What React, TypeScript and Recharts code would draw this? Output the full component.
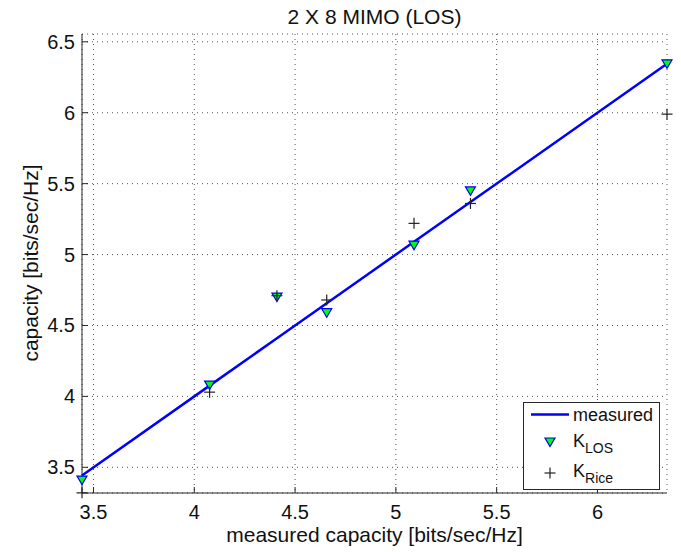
import React from "react";
import {
  ScatterChart,
  Scatter,
  XAxis,
  YAxis,
  CartesianGrid,
  Legend,
} from "recharts";

// measured capacity (x) and the three curves
const measuredCap = [3.443, 4.076, 4.41, 4.657, 5.09, 5.37, 6.345];
const measuredLine = [3.443, 4.076, 4.41, 4.657, 5.09, 5.37, 6.345];
const kLos = [3.41, 4.08, 4.7, 4.59, 5.066, 5.449, 6.345];
const kRice = [3.32, 4.03, 4.71, 4.68, 5.22, 5.36, 5.99];

const xTicks = [3.5, 4, 4.5, 5, 5.5, 6];
const yTicks = [3.5, 4, 4.5, 5, 5.5, 6, 6.5];
const xDomain = [3.443, 6.345];
const yDomain = [3.319, 6.555];

const FONT = '"Liberation Sans", Arial, Helvetica, sans-serif';
const INK = "#262626";
const TICK_LEN = 6;

const toPoints = (ys: number[]) => measuredCap.map((x, i) => ({ x, y: ys[i] }));

function BottomTick({ x, y, payload }: any) {
  return (
    <g>
      <line x1={x} x2={x} y1={y} y2={y - TICK_LEN} stroke={INK} />
      <text
        x={x}
        y={y + 19}
        textAnchor="middle"
        dominantBaseline="central"
        fontSize={20}
        fontFamily={FONT}
        fill="#111"
      >
        {payload.value}
      </text>
    </g>
  );
}

function LeftTick({ x, y, payload }: any) {
  return (
    <g>
      <line x1={x} x2={x + TICK_LEN} y1={y} y2={y} stroke={INK} />
      <text
        x={x - 7}
        y={y}
        textAnchor="end"
        dominantBaseline="central"
        fontSize={20}
        fontFamily={FONT}
        fill="#111"
      >
        {payload.value}
      </text>
    </g>
  );
}

function TopTick({ x, y }: any) {
  return <line x1={x} x2={x} y1={y} y2={y + TICK_LEN} stroke={INK} />;
}

function RightTick({ x, y }: any) {
  return <line x1={x} x2={x - TICK_LEN} y1={y} y2={y} stroke={INK} />;
}

function Triangle({ cx, cy }: any) {
  return (
    <polygon
      points={`${cx - 5},${cy - 4} ${cx + 5},${cy - 4} ${cx},${cy + 4.5}`}
      fill="#00ff00"
      stroke="#0000ff"
      strokeWidth={1.2}
    />
  );
}

function Plus({ cx, cy }: any) {
  return (
    <g stroke="#222" strokeWidth={1.2}>
      <line x1={cx - 5.5} x2={cx + 5.5} y1={cy} y2={cy} />
      <line x1={cx} x2={cx} y1={cy - 5.5} y2={cy + 5.5} />
    </g>
  );
}

function NoDot() {
  return <g />;
}

function LegendBox() {
  const txt = { fontFamily: FONT, fill: "#111" };
  return (
    <svg width={137} height={88} style={{ display: "block" }}>
      <rect x={0.5} y={0.5} width={136} height={87} fill="#fff" stroke={INK} />
      <line x1={8} x2={46} y1={12.5} y2={12.5} stroke="#0000ff" strokeWidth={2.5} />
      <text x={50} y={19} fontSize={18} {...txt}>
        measured
      </text>
      <Triangle cx={27} cy={40} />
      <text x={50} y={45} fontSize={18} {...txt}>
        K
        <tspan fontSize={14} dy={6}>
          LOS
        </tspan>
      </text>
      <Plus cx={27} cy={71} />
      <text x={50} y={75} fontSize={18} {...txt}>
        K
        <tspan fontSize={14} dy={6}>
          Rice
        </tspan>
      </text>
    </svg>
  );
}

export default function App() {
  return (
    <div
      style={{
        position: "absolute",
        left: 0,
        top: 0,
        width: 681,
        height: 552,
        background: "#fff",
        fontFamily: FONT,
        color: "#111",
      }}
    >
      <div
        style={{
          position: "absolute",
          left: 82,
          width: 585,
          top: 5,
          textAlign: "center",
          fontSize: 21,
        }}
      >
        2 X 8 MIMO (LOS)
      </div>

      <ScatterChart
        width={681}
        height={552}
        margin={{ top: 34, right: 14, bottom: 0, left: 0 }}
      >
        <CartesianGrid
          xAxisId="bottom"
          yAxisId="left"
          stroke="#555"
          strokeDasharray="1 4"
        />
        <XAxis
          xAxisId="bottom"
          type="number"
          dataKey="x"
          domain={xDomain}
          ticks={xTicks}
          interval={0}
          height={59}
          tickSize={0}
          tickMargin={0}
          axisLine={{ stroke: INK }}
          tickLine={false}
          tick={<BottomTick />}
        />
        <XAxis
          xAxisId="top"
          orientation="top"
          type="number"
          dataKey="x"
          domain={xDomain}
          ticks={xTicks}
          interval={0}
          height={0}
          tickSize={0}
          tickMargin={0}
          axisLine={{ stroke: INK }}
          tickLine={false}
          tick={<TopTick />}
        />
        <YAxis
          yAxisId="left"
          type="number"
          dataKey="y"
          domain={yDomain}
          ticks={yTicks}
          interval={0}
          width={82}
          tickSize={0}
          tickMargin={0}
          axisLine={{ stroke: INK }}
          tickLine={false}
          tick={<LeftTick />}
        />
        <YAxis
          yAxisId="right"
          orientation="right"
          type="number"
          dataKey="y"
          domain={yDomain}
          ticks={yTicks}
          interval={0}
          width={0}
          tickSize={0}
          tickMargin={0}
          axisLine={{ stroke: INK }}
          tickLine={false}
          tick={<RightTick />}
        />
        <Scatter
          name="measured"
          xAxisId="bottom"
          yAxisId="left"
          data={toPoints(measuredLine)}
          line={{ stroke: "#0000ff", strokeWidth: 2.5 }}
          shape={<NoDot />}
          isAnimationActive={false}
        />
        <Scatter
          name="K_LOS"
          xAxisId="bottom"
          yAxisId="left"
          data={toPoints(kLos)}
          shape={<Triangle />}
          isAnimationActive={false}
        />
        <Scatter
          name="K_Rice"
          xAxisId="bottom"
          yAxisId="left"
          data={toPoints(kRice)}
          shape={<Plus />}
          isAnimationActive={false}
        />
        <Legend
          layout="vertical"
          align="center"
          verticalAlign="middle"
          wrapperStyle={{ left: 523, top: 402, width: 137, height: 88 }}
          content={() => <LegendBox />}
        />
      </ScatterChart>

      <div
        style={{
          position: "absolute",
          left: 82,
          width: 585,
          top: 523,
          textAlign: "center",
          fontSize: 21,
        }}
      >
        measured capacity [bits/sec/Hz]
      </div>
      <div
        style={{
          position: "absolute",
          left: 31,
          top: 263,
          transform: "translate(-50%, -50%) rotate(-90deg)",
          whiteSpace: "nowrap",
          fontSize: 21,
        }}
      >
        capacity [bits/sec/Hz]
      </div>
    </div>
  );
}
